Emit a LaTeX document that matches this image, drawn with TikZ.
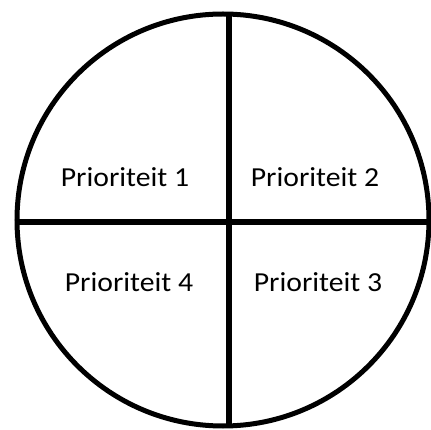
\documentclass[tikz,border=0pt]{standalone}
\usepackage{fontspec}
\setmainfont{Carlito}
\newcommand{\wide}[1]{\scalebox{1.08}[1]{#1}}
\begin{document}
\begin{tikzpicture}[x=1pt,y=-1pt,
  lbl/.style={anchor=base,inner sep=0pt,font=\fontsize{27.5}{30}\selectfont,text=black},
  thick line/.style={line width=5.5pt,black}]
\useasboundingbox (0,0) rectangle (431,430);
\node[circle,draw,line width=5pt,minimum size=412pt,inner sep=0pt] (c) at (223,220) {};
\coordinate (vt) at (229,14);
\coordinate (vb) at (229,426);
\coordinate (hl) at (17,222);
\coordinate (hr) at (429,222);
\draw[thick line] (vt) -- (vb);
\draw[thick line] (hl) -- (hr);
\node[lbl] (p1) at (125,187) {\wide{Prioriteit 1}};
\node[lbl] (p2) at (315,187) {\wide{Prioriteit 2}};
\node[lbl] (p4) at (129,292) {\wide{Prioriteit 4}};
\node[lbl] (p3) at (318,292) {\wide{Prioriteit 3}};
\end{tikzpicture}
\end{document}
